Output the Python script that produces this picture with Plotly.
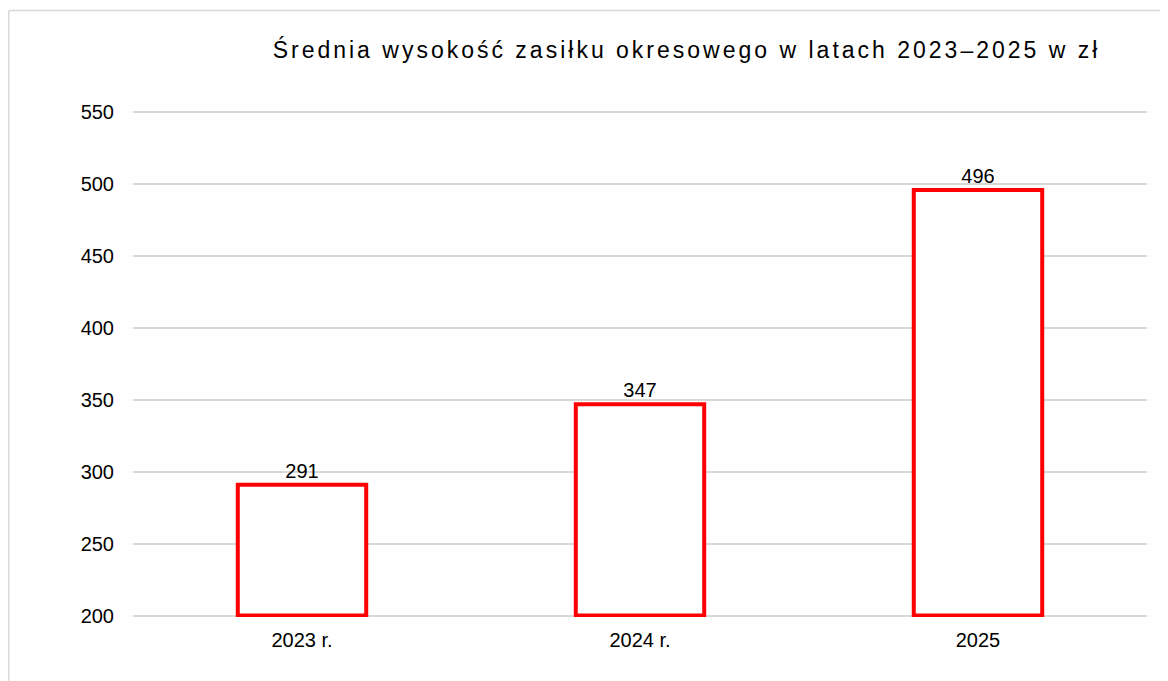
import plotly.graph_objects as go

categories = ["2023 r.", "2024 r.", "2025"]
values = [291, 347, 496]
base_value = 200
y_ticks = [200, 250, 300, 350, 400, 450, 500, 550]
title_text = "Średnia wysokość zasiłku okresowego w latach 2023–2025 w zł"

FONT = "Arial, Liberation Sans, sans-serif"

# page body has an 8px margin; compensate so the figure lands where the reference is
W, H = 1160, 673
PX_PER_UNIT = 504 / 350
PAD_UNITS = 1.0
L = 125
T = 104 - PAD_UNITS * PX_PER_UNIT
PW = 1014
PH = 504 + 2 * PAD_UNITS * PX_PER_UNIT
R = W - L - PW
B = H - T - PH

fig = go.Figure()
fig.add_trace(go.Bar(
    x=categories,
    y=[v - base_value for v in values],
    base=base_value,
    text=[str(v) for v in values],
    textposition="outside",
    textfont=dict(family=FONT, size=20, color="#000000"),
    marker=dict(color="#ffffff", line=dict(color="#ff0000", width=4)),
    width=0.38,
    cliponaxis=False,
    hoverinfo="skip",
))

# border of the chart area (only left and top edges visible in the crop)
bx = (0.75 - L) / PW
by = (T + PH - 2) / PH

fig.update_layout(
    width=W, height=H,
    margin=dict(l=L, r=R, t=T, b=B, pad=0),
    paper_bgcolor="#ffffff", plot_bgcolor="#ffffff",
    font=dict(family=FONT, size=20, color="#000000"),
    showlegend=False,
    title=dict(text='<span style="letter-spacing:3px">' + title_text + '</span>',
               x=(686.5 - 8) / W, xanchor="center",
               y=1 - (50 - 8) / H, yanchor="middle",
               font=dict(family=FONT, size=23, color="#000000")),
    xaxis=dict(showline=False, showgrid=False, ticks="", zeroline=False,
               tickfont=dict(size=20), ticklabelstandoff=9),
    yaxis=dict(range=[200 - PAD_UNITS, 550 + PAD_UNITS], tickvals=y_ticks,
               showgrid=True, gridcolor="#d9d9d9", gridwidth=1.5,
               zeroline=False, showline=False, ticks="",
               tickfont=dict(size=20), ticklabelstandoff=18),
    shapes=[
        dict(type="line", xref="paper", yref="paper",
             x0=bx, x1=1.05, y0=by, y1=by,
             line=dict(color="#d9d9d9", width=1.5)),
        dict(type="line", xref="paper", yref="paper",
             x0=bx, x1=bx, y0=by, y1=-0.2,
             line=dict(color="#d9d9d9", width=1.5)),
    ],
)

fig.write_html("out.html")
